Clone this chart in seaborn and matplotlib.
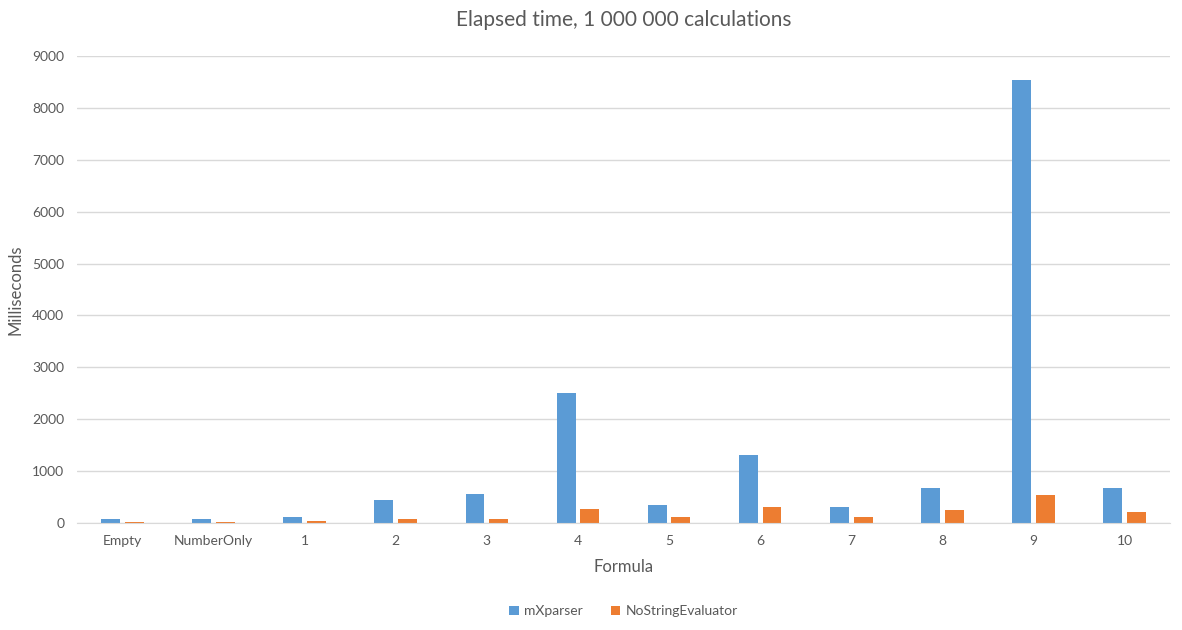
import pandas as pd
import seaborn as sns
import matplotlib.pyplot as plt

# Formula names on the x axis
formulas = ["Empty", "NumberOnly", "1", "2", "3", "4", "5", "6", "7", "8", "9", "10"]

# Elapsed time in milliseconds
mxparser = [80, 80, 120, 450, 565, 2510, 352, 1315, 315, 680, 8530, 680]
nostring = [25, 25, 45, 80, 80, 275, 120, 315, 120, 256, 545, 218]

df = pd.DataFrame({
    "Formula": formulas * 2,
    "Milliseconds": mxparser + nostring,
    "Series": ["mXparser"] * len(formulas) + ["NoStringEvaluator"] * len(formulas),
})

sns.set_style("white")
plt.rcParams["font.family"] = ["Lato", "DejaVu Sans"]

grey = "#595959"

fig = plt.figure(figsize=(11.82, 6.3), dpi=100)
ax = fig.add_axes([0.065, 0.170, 0.925, 0.741])

sns.barplot(data=df, x="Formula", y="Milliseconds", hue="Series",
            palette=["#5B9BD5", "#ED7D31"], width=0.52, gap=0.2,
            saturation=1, linewidth=0, ax=ax, zorder=3)

ax.set_ylim(0, 9000)
ax.set_yticks(range(0, 9001, 1000))
ax.set_xlim(-0.5, len(formulas) - 0.5)
ax.yaxis.grid(True, color="#D9D9D9", linewidth=1, zorder=0)
ax.set_axisbelow(True)

for side in ["top", "right", "left"]:
    ax.spines[side].set_visible(False)
ax.spines["bottom"].set_color("#D9D9D9")
ax.spines["bottom"].set_zorder(4)

ax.tick_params(axis="both", length=0, labelsize=10, colors=grey, pad=9)
ax.set_xlabel("Formula", fontsize=12, color=grey, labelpad=8)
ax.set_ylabel("Milliseconds", fontsize=12, color=grey, labelpad=6)
ax.set_title("Elapsed time, 1 000 000 calculations", fontsize=15, color=grey, pad=22)

leg = ax.legend(loc="upper center", bbox_to_anchor=(0.5, -0.15), ncol=2,
                frameon=False, fontsize=10, handlelength=0.7, handleheight=0.7,
                columnspacing=2.0, handletextpad=0.4)
for t in leg.get_texts():
    t.set_color(grey)

fig.savefig("out.png", dpi=100)
